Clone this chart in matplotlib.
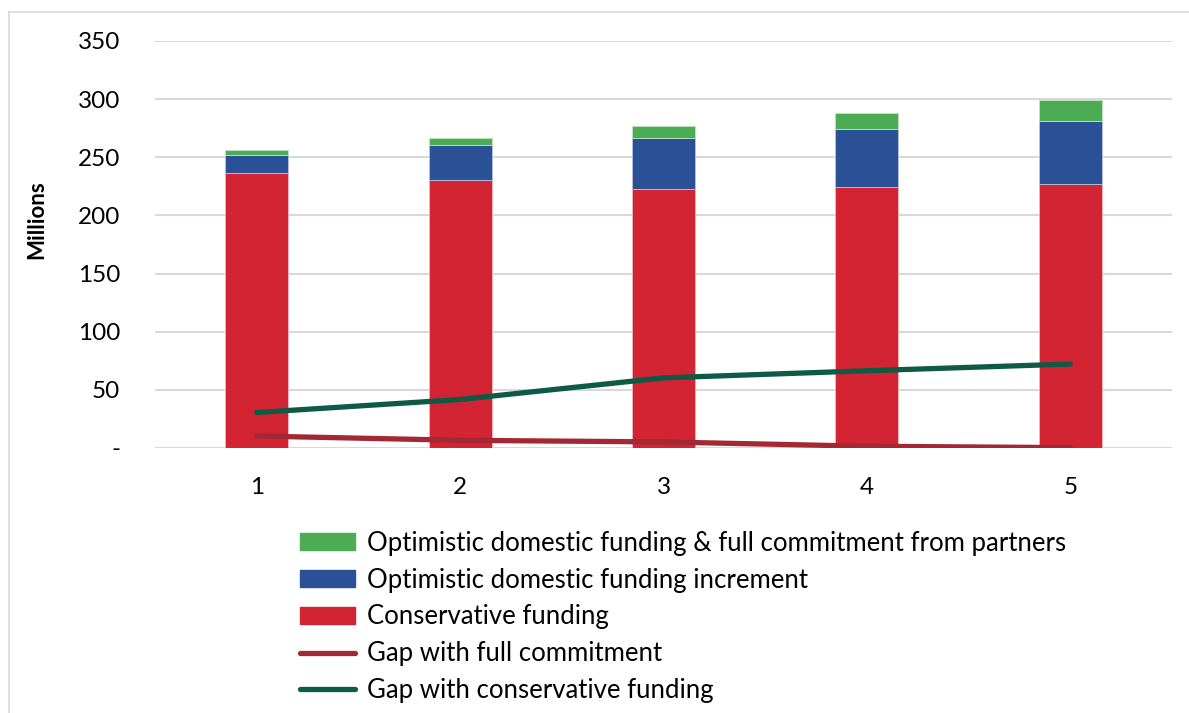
import numpy as np
from matplotlib import pyplot as plt
from matplotlib.lines import Line2D

# Data (millions)
years = [1, 2, 3, 4, 5]
conservative = [236.5, 230.5, 222.5, 224.5, 227.0]
optimistic_increment = [15.5, 30.0, 44.5, 49.5, 54.0]
full_commitment = [4.0, 6.0, 10.0, 14.5, 18.0]
gap_full = [10.3, 6.6, 5.2, 1.5, 0.3]
gap_conservative = [30.5, 41.7, 60.3, 66.4, 72.2]

c_green = '#4BAC53'
c_blue = '#2A5196'
c_red = '#D32433'
c_line_red = '#A32834'
c_line_green = '#0E5A45'

plt.rcParams['font.family'] = ['Lato', 'DejaVu Sans']

fig = plt.figure(figsize=(11.89, 7.13), dpi=100)
ax = fig.add_axes([0.1304, 0.3717, 0.8553, 0.5708])

x = np.array(years)
w = 0.31
ax.bar(x, conservative, w, color=c_red, edgecolor='#F2B8BD', linewidth=0.6, zorder=2)
bottom2 = np.array(conservative)
ax.bar(x, optimistic_increment, w, bottom=bottom2, color=c_blue, edgecolor='#B8C4DE', linewidth=0.6, zorder=2)
bottom3 = bottom2 + np.array(optimistic_increment)
ax.bar(x, full_commitment, w, bottom=bottom3, color=c_green, edgecolor='#C2E3C4', linewidth=0.6, zorder=2)

ax.plot(x, gap_full, color=c_line_red, linewidth=3.8, solid_capstyle='round', zorder=3)
ax.plot(x, gap_conservative, color=c_line_green, linewidth=3.8, solid_capstyle='round', zorder=3)

ax.set_xlim(0.5, 5.5)
ax.set_ylim(0, 350)
ax.set_yticks([0, 50, 100, 150, 200, 250, 300, 350])
ax.set_yticklabels(['-', '50', '100', '150', '200', '250', '300', '350'], fontsize=17.5)
ax.set_xticks(x)
ax.set_xticklabels([str(v) for v in years], fontsize=17.5)
ax.tick_params(length=0)
ax.tick_params(axis='y', pad=25)
ax.tick_params(axis='x', pad=21)
ax.grid(axis='y', color='#D9D9D9', linewidth=1.5, zorder=0)
for s in ax.spines.values():
    s.set_visible(False)
ax.set_ylabel('Millions', fontsize=16, fontweight='bold')
ax.yaxis.set_label_coords(-0.106, 0.56)

handles = [
    plt.Rectangle((0, 0), 1, 1, color=c_green),
    plt.Rectangle((0, 0), 1, 1, color=c_blue),
    plt.Rectangle((0, 0), 1, 1, color=c_red),
    Line2D([0], [0], color=c_line_red, linewidth=3.8, solid_capstyle='round'),
    Line2D([0], [0], color=c_line_green, linewidth=3.8, solid_capstyle='round'),
]
labels = [
    'Optimistic domestic funding & full commitment from partners',
    'Optimistic domestic funding increment',
    'Conservative funding',
    'Gap with full commitment',
    'Gap with conservative funding',
]
fig.legend(handles, labels, loc='upper left', bbox_to_anchor=(0.2415, 0.2735),
           frameon=False, fontsize=18.5, handlelength=2.14, handleheight=0.62,
           labelspacing=0.46, handletextpad=0.47, borderpad=0)

# chart border (top and left visible in the crop)
fig.add_artist(Line2D([0.0076, 0.0076], [0, 0.983], color='#D9D9D9', linewidth=1.2))
fig.add_artist(Line2D([0.0076, 1.0], [0.983, 0.983], color='#D9D9D9', linewidth=1.2))

plt.savefig('out.png', dpi=100)
